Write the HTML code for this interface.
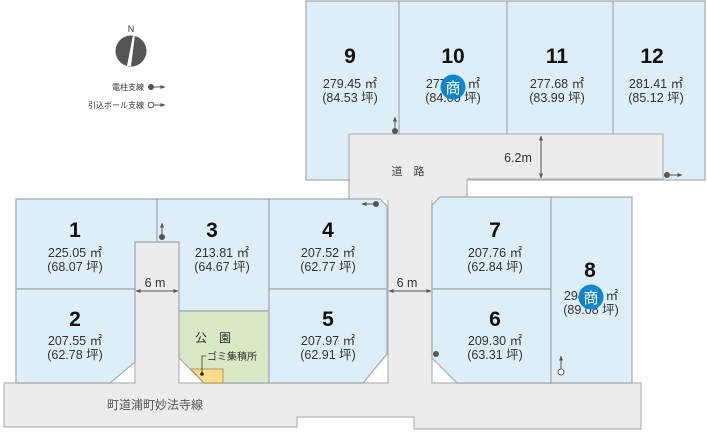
<!DOCTYPE html>
<html><head><meta charset="utf-8"><style>
html,body{margin:0;padding:0;background:#fff;}
svg{display:block;font-family:"Liberation Sans","Noto Sans CJK JP",sans-serif;}
.lot{fill:#deeef9;stroke:#a4a9ad;stroke-width:1.2;}
.rd{fill:#ececec;stroke:#b4b4b4;stroke-width:1.2;}
.n{font-size:21px;font-weight:bold;fill:#111;text-anchor:middle;}
.a{font-size:12.5px;fill:#333;text-anchor:middle;}
.l{font-size:11px;fill:#444;text-anchor:middle;}
</style></head><body>
<svg width="707" height="432" viewBox="0 0 707 432" xmlns="http://www.w3.org/2000/svg">
<defs><marker id="ah" viewBox="0 0 10 10" refX="9" refY="5" markerWidth="5" markerHeight="5" orient="auto-start-reverse"><path d="M0,1 L10,5 L0,9 z" fill="#555"/></marker></defs>
<path class="rd" d="M349,134 H663 V179 H467 V197 H432 V383 H641 V429 H414 V417 H297 V427 H4 V383 H135 V242 H179 V383 H388 V197 H349 Z"/>
<rect class="lot" x="306" y="1" width="399" height="179"/>
<line x1="399" y1="1" x2="399" y2="134" stroke="#a4a9ad" stroke-width="1.2"/>
<line x1="507" y1="1" x2="507" y2="134" stroke="#a4a9ad" stroke-width="1.2"/>
<line x1="613" y1="1" x2="613" y2="134" stroke="#a4a9ad" stroke-width="1.2"/>
<rect class="rd" x="349" y="134" width="314" height="45"/>
<rect x="350" y="170" width="117" height="30" fill="#ececec"/>
<line x1="349" y1="179" x2="349" y2="199" stroke="#b4b4b4" stroke-width="1.2"/>
<line x1="467" y1="179" x2="467" y2="197" stroke="#b4b4b4" stroke-width="1.2"/>
<path class="lot" d="M16,199 H157 V242 H135 V289 H16 Z"/>
<path class="lot" d="M16,289 H135 V362 L110,383 H16 Z"/>
<path class="lot" d="M157,199 H269 V311 H179 V242 H157 Z"/>
<path d="M179,311 H269 V383 H204 L179,358 Z" fill="#d6e8c4" stroke="#a4a9ad" stroke-width="1.2"/>
<path d="M191,369 H223 V383 H204 Z" fill="#fddc8c" stroke="#b09a60" stroke-width="1"/>
<path class="lot" d="M269,199 H380 L387,206 V289 H269 Z"/>
<path class="lot" d="M269,289 H387 V354 L363,383 H269 Z"/>
<path class="lot" d="M440,197 H551 V289 H432 V205 Z"/>
<path class="lot" d="M432,289 H551 V383 H457 L432,358 Z"/>
<rect class="lot" x="551" y="197" width="81" height="186"/>
<text class="n" x="350" y="63">9</text><text class="a" x="350" y="88">279.45 ㎡</text><text class="a" x="350" y="102">(84.53 坪)</text>
<text class="n" x="453" y="63">10</text><text class="a" x="453" y="88">277.68 ㎡</text><text class="a" x="453" y="102">(84.00 坪)</text>
<text class="n" x="557" y="63">11</text><text class="a" x="557" y="88">277.68 ㎡</text><text class="a" x="557" y="102">(83.99 坪)</text>
<text class="n" x="652" y="63">12</text><text class="a" x="656" y="88">281.41 ㎡</text><text class="a" x="656" y="102">(85.12 坪)</text>
<text class="n" x="75" y="237">1</text><text class="a" x="75" y="257">225.05 ㎡</text><text class="a" x="75" y="271">(68.07 坪)</text>
<text class="n" x="212" y="237">3</text><text class="a" x="222" y="257">213.81 ㎡</text><text class="a" x="222" y="271">(64.67 坪)</text>
<text class="n" x="328" y="237">4</text><text class="a" x="328" y="257">207.52 ㎡</text><text class="a" x="328" y="271">(62.77 坪)</text>
<text class="n" x="75" y="326">2</text><text class="a" x="75" y="345">207.55 ㎡</text><text class="a" x="75" y="359">(62.78 坪)</text>
<text class="n" x="328" y="326">5</text><text class="a" x="328" y="345">207.97 ㎡</text><text class="a" x="328" y="359">(62.91 坪)</text>
<text class="n" x="495" y="237">7</text><text class="a" x="495" y="257">207.76 ㎡</text><text class="a" x="495" y="271">(62.84 坪)</text>
<text class="n" x="495" y="326">6</text><text class="a" x="495" y="345">209.30 ㎡</text><text class="a" x="495" y="359">(63.31 坪)</text>
<text class="n" x="590" y="277">8</text><text class="a" x="591" y="300">294.50 ㎡</text><text class="a" x="591" y="314">(89.08 坪)</text>
<circle cx="453" cy="87" r="12.5" fill="#0e86cf"/><text x="453" y="93" font-size="15" fill="#fff" text-anchor="middle">商</text>
<circle cx="591" cy="297" r="12.5" fill="#0e86cf"/><text x="591" y="303" font-size="15" fill="#fff" text-anchor="middle">商</text>
<text class="l" x="408" y="175" font-size="12">道　路</text>
<text class="a" x="518" y="162">6.2m</text>
<line x1="541" y1="136" x2="541" y2="178" stroke="#555" marker-start="url(#ah)" marker-end="url(#ah)"/>
<text class="a" x="155" y="287">6 m</text>
<line x1="136" y1="291" x2="178" y2="291" stroke="#555" marker-start="url(#ah)" marker-end="url(#ah)"/>
<text class="a" x="407" y="287">6 m</text>
<line x1="389" y1="291" x2="431" y2="291" stroke="#555" marker-start="url(#ah)" marker-end="url(#ah)"/>
<text x="213" y="342" font-size="12" fill="#333" text-anchor="middle">公　園</text>
<text x="207" y="360" font-size="10" fill="#333">ゴミ集積所</text>
<polyline points="206,356 202,356 202,373" fill="none" stroke="#333" stroke-width="0.8"/><circle cx="202" cy="374" r="1.8" fill="#222"/>
<text x="155" y="409" font-size="12" fill="#555" text-anchor="middle">町道浦町妙法寺線</text>
<text x="131" y="32" font-size="9" fill="#333" text-anchor="middle">N</text>
<circle cx="131" cy="51" r="15.5" fill="#555"/>
<polygon points="133,35 135,35 131,66 127,66" fill="#fff"/>
<text x="144" y="90" font-size="8" fill="#333" text-anchor="end">電柱支線</text>
<circle cx="151" cy="87" r="3" fill="#555"/><line x1="151" y1="87" x2="165" y2="87" stroke="#555" marker-end="url(#ah)"/>
<text x="144" y="108" font-size="8" fill="#333" text-anchor="end">引込ボール支線</text>
<circle cx="151" cy="105" r="2.8" fill="#fff" stroke="#555"/><line x1="154" y1="105" x2="165" y2="105" stroke="#555" marker-end="url(#ah)"/>
<circle cx="395" cy="131" r="3" fill="#555"/><line x1="395" y1="131" x2="395" y2="117" stroke="#555" marker-end="url(#ah)"/>
<circle cx="162" cy="237" r="3" fill="#555"/><line x1="162" y1="237" x2="162" y2="223" stroke="#555" marker-end="url(#ah)"/>
<circle cx="376" cy="204" r="3" fill="#555"/><line x1="376" y1="204" x2="362" y2="204" stroke="#555" marker-end="url(#ah)"/>
<circle cx="667" cy="175" r="3" fill="#555"/><line x1="667" y1="175" x2="682" y2="175" stroke="#555" marker-end="url(#ah)"/>
<circle cx="436" cy="354" r="3" fill="#555"/>
<circle cx="561" cy="372" r="3" fill="#fff" stroke="#555"/><line x1="561" y1="369" x2="561" y2="356" stroke="#555" marker-end="url(#ah)"/>
</svg>
</body></html>
